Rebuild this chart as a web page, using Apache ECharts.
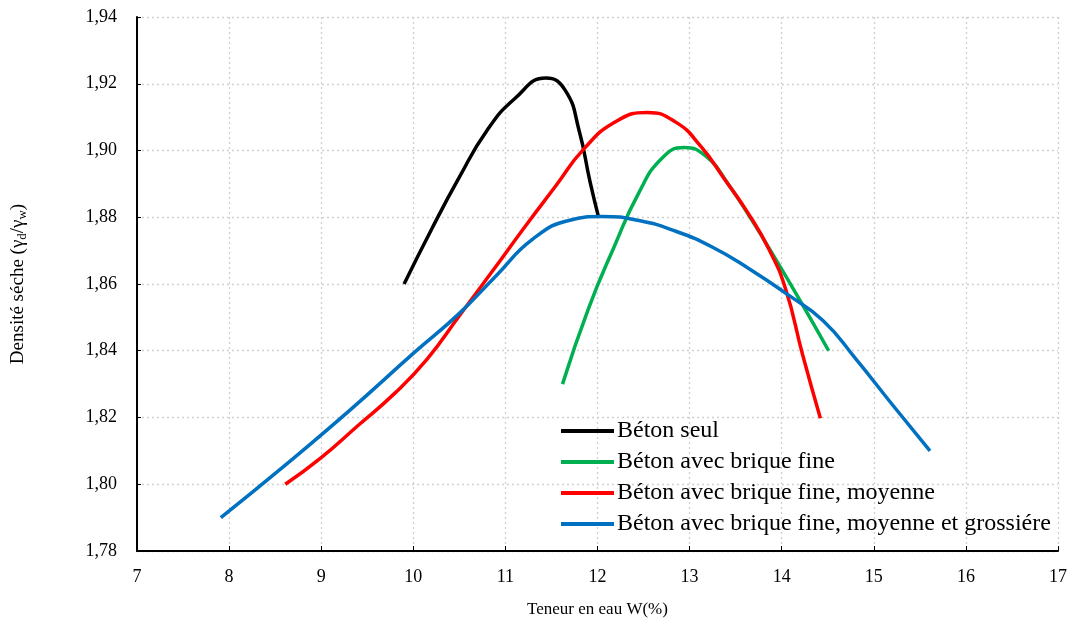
<!DOCTYPE html>
<html>
<head>
<meta charset="utf-8">
<script src="https://cdn.jsdelivr.net/npm/echarts@6/dist/echarts.min.js"></script>
<style>html,body{margin:0;padding:0;background:#fff;}#c{width:1072px;height:627px;}</style>
</head>
<body>
<div id="c"></div>
<script>
var seriesNames = ['Béton seul', 'Béton avec brique fine', 'Béton avec brique fine, moyenne', 'Béton avec brique fine, moyenne et grossiére'];
var betonSeul = [[9.9,1.860],[10.2,1.8765],[10.5,1.892],[10.8,1.906],[11.1,1.9155],[11.44,1.9217],[11.65,1.918],[11.8,1.906],[11.92,1.8905],[12.01,1.8802]];
var briqueFine = [[11.62,1.830],[11.9,1.8525],[12.18,1.8711],[12.45,1.8874],[12.7,1.8977],[12.94,1.9009],[13.18,1.8982],[13.42,1.8899],[13.66,1.8798],[13.9,1.869],[14.2,1.855],[14.51,1.840]];
var briqueFineMoy = [[8.61,1.800],[9.0,1.808],[9.4,1.8176],[9.8,1.8273],[10.15,1.8375],[10.5,1.8505],[10.85,1.8635],[11.2,1.8767],[11.55,1.8895],[11.85,1.9004],[12.2,1.9087],[12.54,1.9114],[12.85,1.9085],[13.12,1.9013],[13.38,1.8914],[13.64,1.881],[13.86,1.8705],[14.04,1.8587],[14.23,1.8385],[14.42,1.8198]];
var briqueFineMoyGros = [[7.91,1.790],[8.6,1.8055],[9.3,1.8219],[10.0,1.8392],[10.5,1.8512],[10.9,1.8625],[11.3,1.8735],[11.7,1.8791],[12.05,1.8802],[12.45,1.879],[12.85,1.8758],[13.25,1.871],[13.65,1.8645],[14.05,1.8571],[14.45,1.849],[14.8,1.8377],[15.2,1.8239],[15.61,1.810]];
var colors = ['#000000', '#00b050', '#ff0000', '#0070c0'];
var xTitle = 'Teneur en eau W(%)';

var chart = echarts.init(document.getElementById('c'), null, {renderer: 'canvas'});
var font = '"Liberation Serif", "Times New Roman", serif';
var datasets = [betonSeul, briqueFine, briqueFineMoy, briqueFineMoyGros];
var series = datasets.map(function (d, i) {
  return {
    name: seriesNames[i], type: 'line', data: d, smooth: 0.5, symbol: 'none',
    lineStyle: {color: colors[i], width: 3.5}, itemStyle: {color: colors[i]}, z: 3
  };
});
chart.setOption({
  animation: false,
  textStyle: {fontFamily: font},
  grid: {left: 137, right: 14, top: 17, bottom: 76, containLabel: false},
  xAxis: {
    type: 'value', min: 7, max: 17, interval: 1,
    name: xTitle, nameLocation: 'middle', nameGap: 50,
    nameTextStyle: {fontFamily: font, fontSize: 17, color: '#000'},
    axisLine: {lineStyle: {color: '#000', width: 2}},
    axisTick: {inside: true, length: 5, lineStyle: {color: '#000', width: 1}},
    axisLabel: {fontFamily: font, fontSize: 18, color: '#000', margin: 17},
    splitLine: {show: true, lineStyle: {color: '#d0d0d0', type: [2, 3], width: 1.3}}
  },
  yAxis: {
    type: 'value', min: 1.78, max: 1.94, interval: 0.02,
    name: '{n|Densité séche (γ}{s|d}{n|/γ}{s|w}{n|)}', nameLocation: 'middle', nameGap: 108,
    nameTextStyle: {
      fontFamily: font, fontSize: 19, color: '#000',
      rich: {
        n: {fontFamily: font, fontSize: 19, color: '#000'},
        s: {fontFamily: font, fontSize: 13, color: '#000', verticalAlign: 'bottom', padding: [9, 0, 0, 0]}
      }
    },
    axisLine: {show: true, lineStyle: {color: '#000', width: 2}},
    axisTick: {show: true, inside: true, length: 4, lineStyle: {color: '#000', width: 1}},
    axisLabel: {fontFamily: font, fontSize: 18, color: '#000', margin: 20,
      formatter: function (v) { return v.toFixed(2).replace('.', ','); }},
    splitLine: {show: true, lineStyle: {color: '#d0d0d0', type: [2, 3], width: 1.3}}
  },
  legend: {
    orient: 'vertical', left: 556, top: 414, icon: 'rect', itemWidth: 53, itemHeight: 4,
    itemGap: 7, data: seriesNames,
    textStyle: {fontFamily: font, fontSize: 24, color: '#000', padding: [0, 0, 0, -2]}
  },
  series: series
});
</script>
</body>
</html>
